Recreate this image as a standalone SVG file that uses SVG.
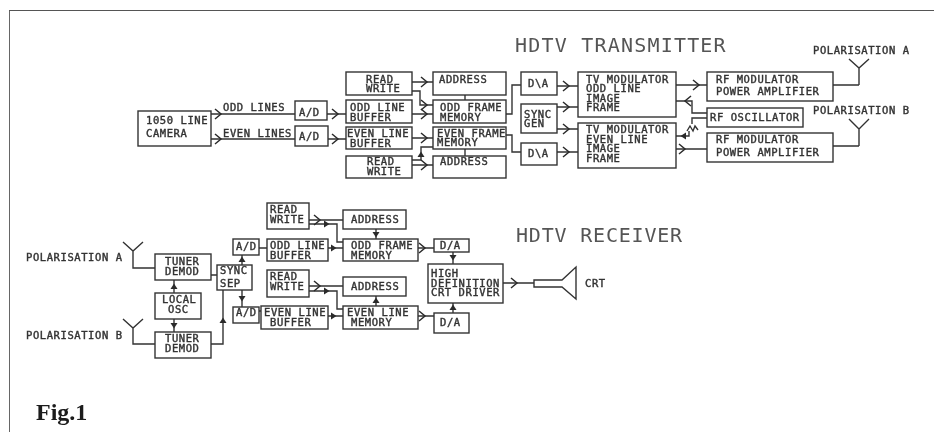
<svg xmlns="http://www.w3.org/2000/svg" width="934" height="432" viewBox="0 0 934 432">
<style>
.b{fill:#fff;stroke:#333;stroke-width:1.4}
.l{fill:none;stroke:#333;stroke-width:1.4}
.c{fill:none;stroke:#2a2a2a;stroke-width:1.5}
.t{font-family:"DejaVu Sans Mono",monospace;font-size:10.5px;letter-spacing:.58px;fill:#333;stroke:#333;stroke-width:.4}
.h{font-family:"DejaVu Sans Mono",monospace;font-size:20px;letter-spacing:1.2px;fill:#555}
.h2{letter-spacing:.8px}
.f{font-family:"Liberation Serif",serif;font-size:24px;font-weight:700;fill:#1a1a1a}
</style>
<defs>
<filter id="scan" x="0" y="0" width="100%" height="100%"><feGaussianBlur stdDeviation="0.4"/></filter>
<path id="r" class="c" d="M-4 -5L2 0L-4 5"/>
<path id="le" class="c" d="M4 -5L-2 0L4 5"/>
<path id="u" fill="#2a2a2a" d="M-3.5 2L0 -3.5L3.5 2Z"/>
<path id="d" fill="#2a2a2a" d="M-3.5 -2L0 3.5L3.5 -2Z"/>
<path id="fr" fill="#2a2a2a" d="M-2 -3.5L3.5 0L-2 3.5Z"/>
</defs>
<rect width="934" height="432" fill="#fff"/>
<g filter="url(#scan)">
<path id="frame" d="M9 432V10H934" fill="none" stroke="#555" stroke-width="1.8"/>
<text class="h" x="515" y="52">HDTV TRANSMITTER</text>
<text class="h h2" x="516" y="242">HDTV RECEIVER</text>
<text class="f" x="36" y="420">Fig.1</text>

<g id="connectors">
<path class="l" d="M211 114H295M211 139H295M327 114H346M328 139H346M412 82H433M412 91H420V105H433M412 114H433M412 138H433M412 165H433M412 160H421V147H433M465 95V100M465 149V156M506 114H512V85H521M506 135H512V152H521M557 86H578M557 152H578M557 107H578M557 129H578M676 85H707M676 101H692V113H707M707 118H692V124M689 131V136H676M676 149H707"/>
<path class="l" d="M687 131L690 126L693 131L695 126L698 130"/>
<path class="l" d="M833 85H859M833 146H859"/>
<path class="l" d="M211 275H217M211 344H223V290M242 255V265M242 290V307M174 280V293M174 319V332M259 248H267M259 311H261M309 220H343M309 224H337V242H343M376 229V239M328 248H343M418 248H434M453 252V264M309 286H343M309 291H337V309H343M376 296V306M328 316H343M418 316H434M453 313V303M503 283H534"/>
<use href="#r" x="219" y="114"/><use href="#r" x="219" y="139"/>
<use href="#r" x="336" y="114"/><use href="#r" x="336" y="139"/>
<use href="#r" x="425" y="82"/><use href="#r" x="425" y="105"/><use href="#r" x="425" y="114"/><use href="#r" x="425" y="138"/><use href="#r" x="425" y="165"/>
<use href="#u" x="421" y="155"/>
<use href="#r" x="567" y="86"/><use href="#r" x="567" y="107"/><use href="#r" x="567" y="129"/><use href="#r" x="567" y="152"/>
<use href="#r" x="697" y="85"/><use href="#le" x="687" y="101"/><use href="#fr" x="684" y="136" transform="rotate(180 684 136)"/><use href="#r" x="683" y="149"/>
<use href="#u" x="174" y="287"/><use href="#d" x="174" y="325"/><use href="#u" x="223" y="321"/><use href="#u" x="242" y="260"/><use href="#d" x="242" y="298"/>
<use href="#r" x="318" y="220"/><use href="#fr" x="326" y="224"/><use href="#d" x="376" y="234"/><use href="#fr" x="333" y="248"/><use href="#r" x="423" y="248"/><use href="#d" x="453" y="257"/>
<use href="#r" x="318" y="286"/><use href="#fr" x="326" y="291"/><use href="#u" x="376" y="301"/><use href="#fr" x="333" y="316"/><use href="#r" x="423" y="316"/><use href="#u" x="453" y="308"/>
<use href="#r" x="515" y="283"/>
</g>

<g id="label-odd"><text class="t" x="223" y="111">ODD LINES</text></g>
<g id="label-even"><text class="t" x="223" y="137">EVEN LINES</text></g>

<g id="camera"><rect class="b" x="138" y="111" width="73" height="35"/><text class="t" x="146" y="124">1050 LINE</text><text class="t" x="146" y="137">CAMERA</text></g>
<g id="tx-ad1"><rect class="b" x="295" y="101" width="32" height="19"/><text class="t" x="299" y="116">A/D</text></g>
<g id="tx-ad2"><rect class="b" x="295" y="126" width="33" height="20"/><text class="t" x="299" y="140">A/D</text></g>
<g id="tx-rw1"><rect class="b" x="346" y="72" width="66" height="23"/><text class="t" x="366" y="83">READ</text><text class="t" x="366" y="92">WRITE</text></g>
<g id="tx-buf1"><rect class="b" x="346" y="100" width="66" height="23"/><text class="t" x="350" y="111">ODD LINE</text><text class="t" x="350" y="121">BUFFER</text></g>
<g id="tx-buf2"><rect class="b" x="346" y="127" width="66" height="22"/><text class="t" x="347" y="137">EVEN LINE</text><text class="t" x="350" y="147">BUFFER</text></g>
<g id="tx-rw2"><rect class="b" x="346" y="156" width="66" height="22"/><text class="t" x="367" y="165">READ</text><text class="t" x="367" y="175">WRITE</text></g>
<g id="tx-addr1"><rect class="b" x="433" y="72" width="73" height="23"/><text class="t" x="439" y="83">ADDRESS</text></g>
<g id="tx-mem1"><rect class="b" x="433" y="100" width="73" height="23"/><text class="t" x="440" y="111">ODD FRAME</text><text class="t" x="440" y="121">MEMORY</text></g>
<g id="tx-mem2"><rect class="b" x="433" y="127" width="73" height="22"/><text class="t" x="437" y="137">EVEN FRAME</text><text class="t" x="437" y="146">MEMORY</text></g>
<g id="tx-addr2"><rect class="b" x="433" y="156" width="73" height="22"/><text class="t" x="440" y="165">ADDRESS</text></g>
<g id="tx-da1"><rect class="b" x="521" y="72" width="36" height="23"/><text class="t" x="528" y="87">D\A</text></g>
<g id="tx-sync"><rect class="b" x="521" y="104" width="36" height="29"/><text class="t" x="524" y="118">SYNC</text><text class="t" x="524" y="127">GEN</text></g>
<g id="tx-da2"><rect class="b" x="521" y="143" width="36" height="22"/><text class="t" x="528" y="157">D\A</text></g>
<g id="tx-tv1"><rect class="b" x="578" y="72" width="98" height="45"/><text class="t" x="586" y="83">TV MODULATOR</text><text class="t" x="586" y="92">ODD LINE</text><text class="t" x="586" y="102">IMAGE</text><text class="t" x="586" y="111">FRAME</text></g>
<g id="tx-tv2"><rect class="b" x="578" y="123" width="98" height="45"/><text class="t" x="586" y="133">TV MODULATOR</text><text class="t" x="586" y="143">EVEN LINE</text><text class="t" x="586" y="152">IMAGE</text><text class="t" x="586" y="162">FRAME</text></g>
<g id="tx-rf1"><rect class="b" x="707" y="72" width="126" height="29"/><text class="t" x="716" y="83">RF MODULATOR</text><text class="t" x="716" y="95">POWER AMPLIFIER</text></g>
<g id="tx-osc"><rect class="b" x="707" y="108" width="96" height="19"/><text class="t" x="710" y="121">RF OSCILLATOR</text></g>
<g id="tx-rf2"><rect class="b" x="707" y="133" width="126" height="29"/><text class="t" x="716" y="143">RF MODULATOR</text><text class="t" x="716" y="156">POWER AMPLIFIER</text></g>
<g id="tx-ant-a"><path class="l" d="M849 59L859 68L869 59M859 68V85"/><text class="t" x="813" y="54">POLARISATION A</text></g>
<g id="tx-ant-b"><path class="l" d="M849 119L859 129L869 119M859 129V146"/><text class="t" x="813" y="114">POLARISATION B</text></g>

<g id="rx-ant-a"><path class="l" d="M123 242L133 251L143 242M133 251V268H155"/><text class="t" x="26" y="261">POLARISATION A</text></g>
<g id="rx-ant-b"><path class="l" d="M123 319L133 328L143 319M133 328V344H155"/><text class="t" x="26" y="339">POLARISATION B</text></g>
<g id="rx-tuner1"><rect class="b" x="155" y="254" width="56" height="26"/><text class="t" x="165" y="265">TUNER</text><text class="t" x="165" y="275">DEMOD</text></g>
<g id="rx-osc"><rect class="b" x="155" y="293" width="46" height="26"/><text class="t" x="162" y="303">LOCAL</text><text class="t" x="168" y="313">OSC</text></g>
<g id="rx-tuner2"><rect class="b" x="155" y="332" width="56" height="26"/><text class="t" x="165" y="342">TUNER</text><text class="t" x="165" y="352">DEMOD</text></g>
<g id="rx-sync"><rect class="b" x="217" y="265" width="35" height="25"/><text class="t" x="220" y="274">SYNC</text><text class="t" x="220" y="287">SEP</text></g>
<g id="rx-ad1"><rect class="b" x="233" y="239" width="26" height="16"/><text class="t" x="236" y="250">A/D</text></g>
<g id="rx-ad2"><rect class="b" x="233" y="307" width="26" height="16"/><text class="t" x="236" y="316">A/D</text></g>
<g id="rx-rw1"><rect class="b" x="267" y="203" width="42" height="26"/><text class="t" x="270" y="213">READ</text><text class="t" x="270" y="223">WRITE</text></g>
<g id="rx-addr1"><rect class="b" x="343" y="210" width="63" height="19"/><text class="t" x="351" y="223">ADDRESS</text></g>
<g id="rx-buf1"><rect class="b" x="267" y="239" width="61" height="22"/><text class="t" x="270" y="249">ODD LINE</text><text class="t" x="270" y="259">BUFFER</text></g>
<g id="rx-mem1"><rect class="b" x="343" y="239" width="75" height="22"/><text class="t" x="351" y="249">ODD FRAME</text><text class="t" x="351" y="259">MEMORY</text></g>
<g id="rx-da1"><rect class="b" x="434" y="239" width="35" height="13"/><text class="t" x="440" y="249">D/A</text></g>
<g id="rx-rw2"><rect class="b" x="267" y="270" width="42" height="27"/><text class="t" x="270" y="280">READ</text><text class="t" x="270" y="290">WRITE</text></g>
<g id="rx-addr2"><rect class="b" x="343" y="277" width="63" height="19"/><text class="t" x="351" y="290">ADDRESS</text></g>
<g id="rx-buf2"><rect class="b" x="261" y="306" width="67" height="23"/><text class="t" x="264" y="316">EVEN LINE</text><text class="t" x="270" y="326">BUFFER</text></g>
<g id="rx-mem2"><rect class="b" x="343" y="306" width="75" height="23"/><text class="t" x="347" y="316">EVEN LINE</text><text class="t" x="351" y="326">MEMORY</text></g>
<g id="rx-da2"><rect class="b" x="434" y="313" width="35" height="20"/><text class="t" x="440" y="326">D/A</text></g>
<g id="rx-driver"><rect class="b" x="428" y="264" width="75" height="39"/><text class="t" x="431" y="277">HIGH</text><text class="t" x="431" y="287">DEFINITION</text><text class="t" x="431" y="296">CRT DRIVER</text></g>
<g id="rx-crt"><path class="l" d="M534 280H562L576 267V299L562 287H534Z"/><text class="t" x="585" y="287">CRT</text></g>
</g>
</svg>
